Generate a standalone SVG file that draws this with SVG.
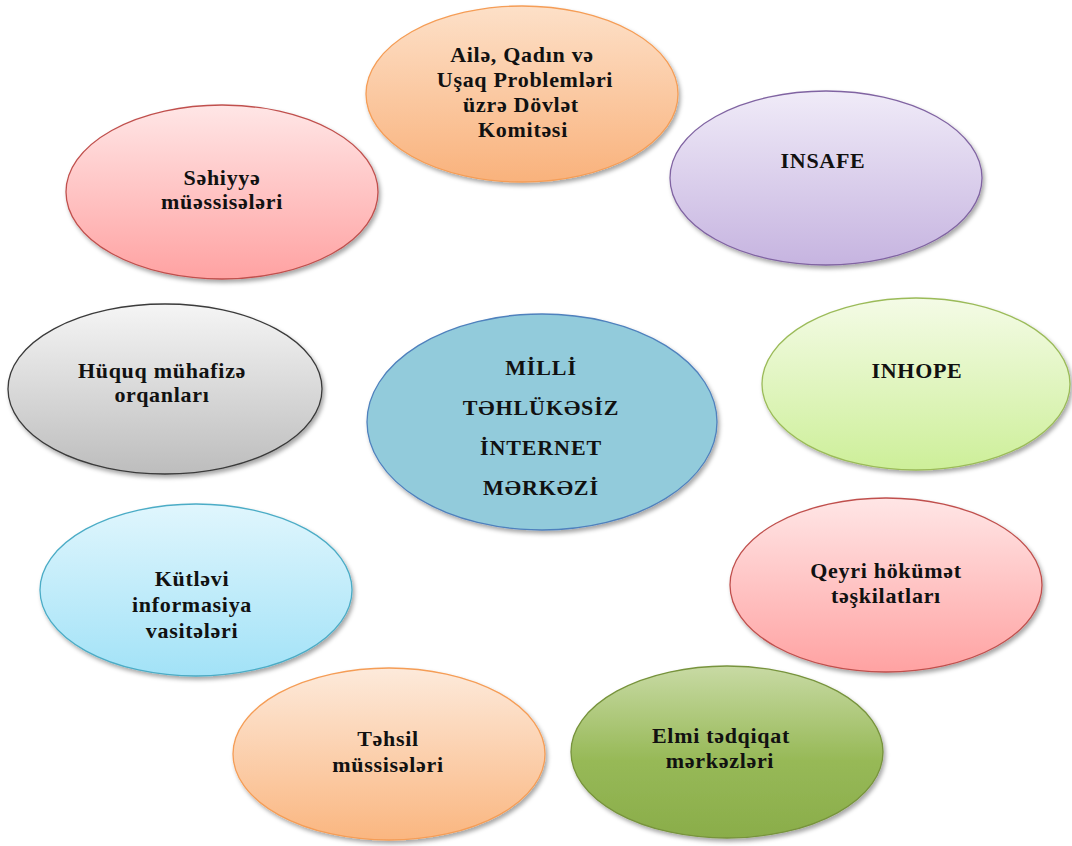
<svg xmlns="http://www.w3.org/2000/svg" width="1072" height="846" viewBox="0 0 1072 846">
<style>
text{font-family:"Liberation Serif","Times New Roman",serif;font-weight:bold;font-size:22px;fill:#111;text-anchor:middle;letter-spacing:0.7px}
.c{letter-spacing:0.9px}
ellipse{stroke-width:1.3}
</style>
<defs>
<filter id="sh" x="-10%" y="-10%" width="125%" height="130%">
<feDropShadow dx="2" dy="3" stdDeviation="2" flood-color="#000" flood-opacity="0.35"/>
</filter>
<linearGradient id="gOr" x1="0" y1="0" x2="0" y2="1"><stop offset="0" stop-color="#fde0c8"/><stop offset="1" stop-color="#f9b27c"/></linearGradient>
<linearGradient id="gOr2" x1="0" y1="0" x2="0" y2="1"><stop offset="0" stop-color="#fdeadb"/><stop offset="1" stop-color="#fab680"/></linearGradient>
<linearGradient id="gPu" x1="0" y1="0" x2="0" y2="1"><stop offset="0" stop-color="#f0ebf8"/><stop offset="1" stop-color="#c6b4e0"/></linearGradient>
<linearGradient id="gPk" x1="0" y1="0" x2="0" y2="1"><stop offset="0" stop-color="#ffe6e6"/><stop offset="1" stop-color="#ffa2a2"/></linearGradient>
<linearGradient id="gGy" x1="0" y1="0" x2="0" y2="1"><stop offset="0" stop-color="#f5f5f5"/><stop offset="1" stop-color="#bdbdbd"/></linearGradient>
<linearGradient id="gLg" x1="0" y1="0" x2="0" y2="1"><stop offset="0" stop-color="#f4fbe6"/><stop offset="1" stop-color="#cdef99"/></linearGradient>
<linearGradient id="gLb" x1="0" y1="0" x2="0" y2="1"><stop offset="0" stop-color="#e0f6fd"/><stop offset="1" stop-color="#a2e2f7"/></linearGradient>
<linearGradient id="gGr" x1="0" y1="0" x2="0" y2="1"><stop offset="0" stop-color="#c8daa4"/><stop offset="0.55" stop-color="#97b957"/><stop offset="1" stop-color="#8aad4a"/></linearGradient>
</defs>
<g id="connectors"></g>

<g id="node-aile">
<ellipse cx="522" cy="94" rx="156" ry="88" fill="url(#gOr)" stroke="#f59d56" filter="url(#sh)"/>
<text x="522" y="62">Ailə, Qadın və</text>
<text x="525" y="87">Uşaq Problemləri</text>
<text x="521" y="112">üzrə Dövlət</text>
<text x="523" y="137">Komitəsi</text>
</g>

<g id="node-insafe">
<ellipse cx="826" cy="178" rx="156" ry="87" fill="url(#gPu)" stroke="#8064a2" filter="url(#sh)"/>
<text x="823" y="168">INSAFE</text>
</g>

<g id="node-sehiyye">
<ellipse cx="222" cy="192" rx="156" ry="87" fill="url(#gPk)" stroke="#c0504d" filter="url(#sh)"/>
<text x="222" y="185">Səhiyyə</text>
<text x="222" y="209">müəssisələri</text>
</g>

<g id="node-huquq">
<ellipse cx="165" cy="389" rx="157" ry="85" fill="url(#gGy)" stroke="#3a3a3a" filter="url(#sh)"/>
<text x="162" y="378">Hüquq mühafizə</text>
<text x="162" y="402">orqanları</text>
</g>

<g id="node-center">
<ellipse cx="542" cy="422" rx="175" ry="108" fill="#92cbdb" stroke="#4f81bd" filter="url(#sh)"/>
<text class="c" x="541" y="375">MİLLİ</text>
<text class="c" x="541" y="415">TƏHLÜKƏSİZ</text>
<text class="c" x="541" y="455">İNTERNET</text>
<text class="c" x="541" y="495">MƏRKƏZİ</text>
</g>

<g id="node-inhope">
<ellipse cx="916" cy="384" rx="154" ry="86" fill="url(#gLg)" stroke="#9bbb59" filter="url(#sh)"/>
<text x="917" y="378">INHOPE</text>
</g>

<g id="node-qeyri">
<ellipse cx="886" cy="585" rx="156" ry="87" fill="url(#gPk)" stroke="#c0504d" filter="url(#sh)"/>
<text x="886" y="578">Qeyri hökümət</text>
<text x="886" y="603">təşkilatları</text>
</g>

<g id="node-kutlevi">
<ellipse cx="196" cy="590" rx="156" ry="86" fill="url(#gLb)" stroke="#4bacc6" filter="url(#sh)"/>
<text x="192" y="586">Kütləvi</text>
<text x="192" y="612">informasiya</text>
<text x="192" y="638">vasitələri</text>
</g>

<g id="node-tehsil">
<ellipse cx="389" cy="754" rx="156" ry="86" fill="url(#gOr2)" stroke="#f59d56" filter="url(#sh)"/>
<text x="388" y="746">Təhsil</text>
<text x="388" y="772">müssisələri</text>
</g>

<g id="node-elmi">
<ellipse cx="727" cy="752" rx="156" ry="86" fill="url(#gGr)" stroke="#77933c" filter="url(#sh)"/>
<text x="721" y="743">Elmi tədqiqat</text>
<text x="720" y="768">mərkəzləri</text>
</g>
</svg>
